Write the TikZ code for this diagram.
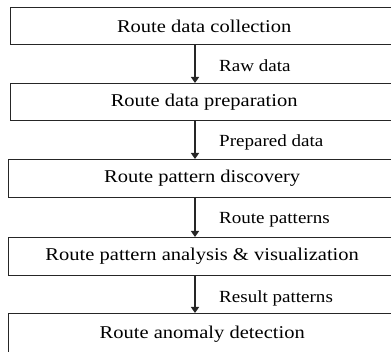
\documentclass[tikz,border=0pt]{standalone}
\usepackage{fontspec}
\setmainfont{Liberation Serif}[FakeStretch=1.12]
\newfontfamily\stagefont{Liberation Serif}[FakeStretch=1.14]
\usetikzlibrary{arrows.meta}
\tikzset{
  stage/.style={draw=black!85, line width=1.4pt, minimum width=387pt, minimum height=37pt,
    inner sep=0pt, font=\stagefont\fontsize{18}{20}\selectfont, anchor=north west},
  flow/.style={draw=black!85, line width=1.4pt, -{Triangle[width=8pt,length=6pt]}},
  flowlabel/.style={anchor=west, inner sep=0pt, font=\fontsize{17}{20}\selectfont}
}
\begin{document}
\begin{tikzpicture}[x=1pt,y=1pt]
  \useasboundingbox (0,0) rectangle (391,352);
  \clip (0,0) rectangle (391,352);
  % column of the downward connectors
  \coordinate (col) at (195,0);
  \node[stage] (s1) at (10,345) {Route data collection};
  \node[stage] (s2) at (10,269) {Route data preparation};
  \node[stage, minimum height=38pt] (s3) at (8,193) {Route pattern discovery};
  \node[stage, minimum height=38pt] (s4) at (8,115) {Route pattern analysis \& visualization};
  \node[stage, minimum height=42pt] (s5) at (8,39) {Route anomaly detection};
  \draw[flow] (s1.south -| col) -- (s2.north -| col);
  \draw[flow] (s2.south -| col) -- (s3.north -| col);
  \draw[flow] (s3.south -| col) -- (s4.north -| col);
  \draw[flow] (s4.south -| col) -- (s5.north -| col);
  \node[flowlabel] (l1) at (219,286) {Raw data};
  \node[flowlabel] (l2) at (219,210) {Prepared data};
  \node[flowlabel] (l3) at (219,132) {Route patterns};
  \node[flowlabel] (l4) at (219,54) {Result patterns};
\end{tikzpicture}
\end{document}
